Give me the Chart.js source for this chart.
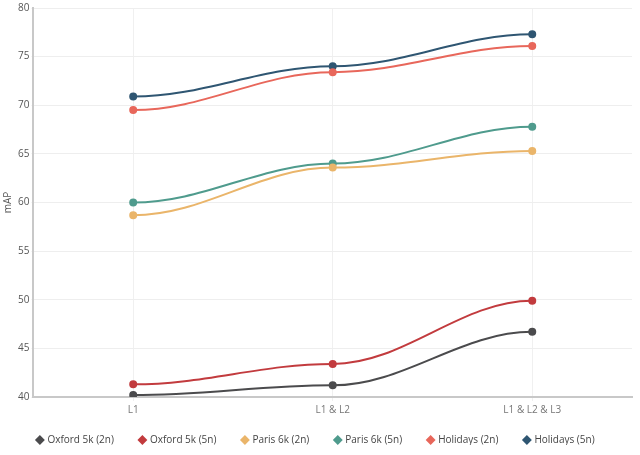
<!DOCTYPE html>
<html>
<head>
<meta charset="utf-8">
<script src="https://cdn.jsdelivr.net/npm/chart.js@4.4.1/dist/chart.umd.min.js"></script>
<style>
    html, body { margin: 0; padding: 0; background: #fff; }
    #wrap { width: 640px; height: 455px; }
</style>
</head>
<body>
<div id="wrap"><canvas id="chart"></canvas></div>
<script>
// --- Data ---
const categories = ['L1', 'L1 & L2', 'L1 & L2 & L3'];
const oxford2n = [40.2, 41.2, 46.7];
const oxford5n = [41.3, 43.4, 49.9];
const paris2n = [58.7, 63.6, 65.3];
const paris5n = [60.0, 64.0, 67.8];
const holidays2n = [69.5, 73.4, 76.1];
const holidays5n = [70.9, 74.0, 77.3];
const yTicks = [40, 45, 50, 55, 60, 65, 70, 75, 80];

const series = [
    { label: 'Oxford 5k (2n)', data: oxford2n, color: '#4b4b4d' },
    { label: 'Oxford 5k (5n)', data: oxford5n, color: '#c23b3e' },
    { label: 'Paris 6k (2n)', data: paris2n, color: '#eab56a' },
    { label: 'Paris 6k (5n)', data: paris5n, color: '#4f9b8d' },
    { label: 'Holidays (2n)', data: holidays2n, color: '#e8675b' },
    { label: 'Holidays (5n)', data: holidays5n, color: '#2f5672' }
];

// Spline with flat tangents at every point (the reference curves are S-shaped)
const flatSpline = {
    id: 'flatSpline',
    beforeDatasetDraw(chart, args) {
        const meta = args.meta;
        meta.dataset.updateControlPoints(chart.chartArea, 'x');
        const pts = meta.data;
        pts.forEach((p, i) => {
            const prev = pts[i - 1], next = pts[i + 1];
            if (prev) { p.cp1x = p.x - (p.x - prev.x) * 0.36; p.cp1y = p.y; }
            if (next) { p.cp2x = p.x + (next.x - p.x) * 0.36; p.cp2y = p.y; }
        });
    }
};

// Shrink the legend box and lift it, so the plot runs closer to the bottom
const LEGEND_CUT = 10;
const LEGEND_LIFT = 10;
const tightLegend = {
    id: 'tightLegend',
    beforeInit(chart) {
        const legend = chart.legend;
        if (!legend) return;
        const fit = legend.fit;
        legend.fit = function () {
            fit.call(this);
            this.height -= LEGEND_CUT;
        };
        const draw = legend.draw;
        legend.draw = function () {
            const c = this.ctx;
            c.save();
            c.translate(0, -LEGEND_LIFT);
            draw.call(this);
            c.restore();
        };
    }
};

const ctx = document.getElementById('chart').getContext('2d');
new Chart(ctx, {
    type: 'line',
    data: {
        labels: categories,
        datasets: series.map(s => ({
            label: s.label,
            data: s.data,
            borderColor: s.color,
            backgroundColor: s.color,
            borderWidth: 2,
            pointRadius: 3,
            pointHoverRadius: 4,
            pointStyle: 'circle',
            tension: 0.4,
            fill: false
        }))
    },
    plugins: [tightLegend, flatSpline],
    options: {
        responsive: true,
        maintainAspectRatio: false,
        animation: false,
        layout: { padding: { top: 8, right: 8, left: 0, bottom: 0 } },
        plugins: {
            legend: {
                position: 'bottom',
                labels: {
                    color: '#444',
                    font: { family: 'Open Sans', size: 10 },
                    usePointStyle: true,
                    pointStyle: 'rectRot',
                    boxWidth: 5,
                    boxHeight: 5,
                    padding: 26
                }
            },
            tooltip: { enabled: false }
        },
        scales: {
            x: {
                offset: true,
                grid: { color: '#f0f0f0', drawTicks: true, tickLength: 4 },
                border: { color: '#c8c8c8', width: 2 },
                ticks: { color: '#777', font: { family: 'Open Sans', size: 10 } }
            },
            y: {
                min: 40,
                max: 80,
                afterBuildTicks: axis => { axis.ticks = yTicks.map(v => ({ value: v })); },
                grid: { color: '#eeeeee', tickLength: 2 },
                border: { color: '#c8c8c8', width: 2 },
                title: {
                    display: true,
                    text: 'mAP',
                    color: '#555',
                    font: { family: 'Open Sans', size: 10 },
                    padding: 2
                },
                ticks: { color: '#555', font: { family: 'Open Sans', size: 10 }, padding: 2 }
            }
        }
    }
});
</script>
</body>
</html>
